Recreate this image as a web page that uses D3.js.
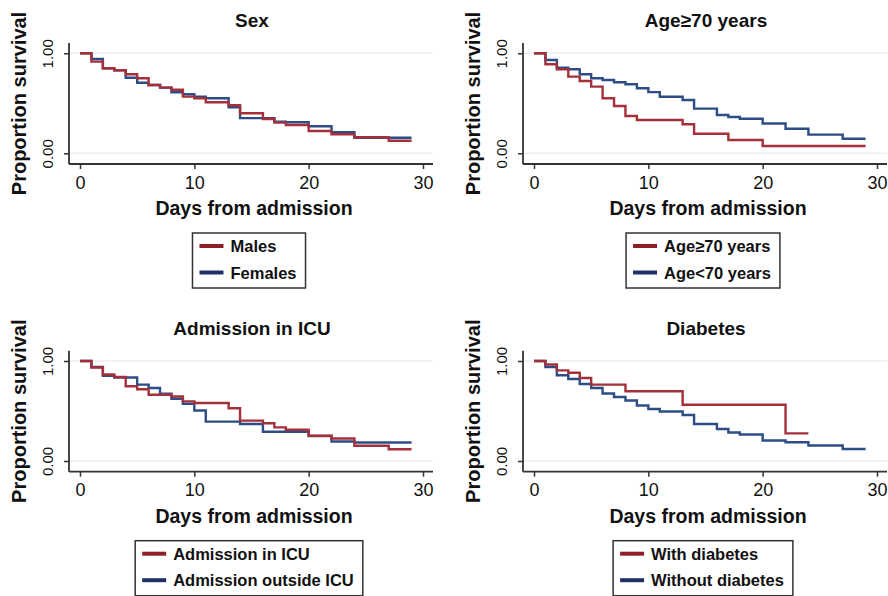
<!DOCTYPE html>
<html>
<head>
<meta charset="utf-8">
<script src="https://cdn.jsdelivr.net/npm/d3@7"></script>
<style>
  body { margin: 0; background: #fff; }
  text { font-family: "Liberation Sans", Arial, Helvetica, sans-serif; }
</style>
</head>
<body>
<script>

// Kaplan-Meier curves, [day, proportion surviving]
var males = [[0, 1], [1, 0.917], [2, 0.85], [3, 0.83], [4, 0.79], [5, 0.75], [6, 0.683], [7, 0.657], [8, 0.635], [9, 0.567], [10, 0.55], [11, 0.51], [13, 0.48], [14, 0.40], [16, 0.343], [17, 0.307], [18, 0.283], [20, 0.223], [22, 0.19], [24, 0.16], [27, 0.125], [29, 0.125]];
var females = [[0, 1], [1, 0.943], [2, 0.85], [3, 0.83], [4, 0.756], [5, 0.706], [6, 0.683], [7, 0.657], [8, 0.61], [9, 0.59], [10, 0.567], [11, 0.55], [13, 0.46], [14, 0.352], [17, 0.317], [18, 0.31], [20, 0.27], [22, 0.21], [24, 0.155], [29, 0.155]];

var ageOld = [[0, 1], [1, 0.89], [2, 0.84], [3, 0.767], [4, 0.723], [5, 0.667], [6, 0.55], [7, 0.473], [8, 0.373], [9, 0.333], [13, 0.29], [14, 0.195], [17, 0.133], [20, 0.073], [29, 0.073]];
var ageYoung = [[0, 1], [1, 0.933], [2, 0.857], [3, 0.84], [4, 0.79], [5, 0.75], [6, 0.733], [7, 0.71], [8, 0.69], [9, 0.65], [10, 0.612], [11, 0.565], [13, 0.533], [14, 0.447], [16, 0.383], [17, 0.363], [18, 0.345], [20, 0.298], [22, 0.246], [24, 0.187], [27, 0.146], [29, 0.146]];

var icuIn = [[0, 1], [1, 0.935], [2, 0.865], [3, 0.84], [4, 0.747], [5, 0.717], [6, 0.663], [8, 0.645], [9, 0.596], [10, 0.58], [13, 0.528], [14, 0.404], [16, 0.377], [17, 0.336], [18, 0.313], [20, 0.252], [22, 0.225], [24, 0.152], [27, 0.117], [29, 0.117]];
var icuOut = [[0, 1], [1, 0.94], [2, 0.853], [3, 0.835], [5, 0.764], [6, 0.73], [7, 0.673], [8, 0.622], [9, 0.572], [10, 0.505], [11, 0.394], [14, 0.37], [16, 0.293], [20, 0.25], [22, 0.195], [24, 0.185], [29, 0.185]];

var withDiabetes = [[0, 1], [1, 0.965], [2, 0.906], [3, 0.883], [4, 0.83], [5, 0.764], [8, 0.697], [13, 0.562], [22, 0.276], [24, 0.276]];
var withoutDiabetes = [[0, 1], [1, 0.94], [2, 0.857], [3, 0.82], [4, 0.77], [5, 0.73], [6, 0.675], [7, 0.64], [8, 0.605], [9, 0.555], [10, 0.52], [11, 0.495], [13, 0.46], [14, 0.37], [16, 0.32], [17, 0.285], [18, 0.265], [20, 0.205], [22, 0.188], [24, 0.155], [27, 0.12], [29, 0.12]];

var titulos = ["Sex", "Age\u226570 years", "Admission in ICU", "Diabetes"];
var leyendas = [
    ["Males", "Females"],
    ["Age\u226570 years", "Age<70 years"],
    ["Admission in ICU", "Admission outside ICU"],
    ["With diabetes", "Without diabetes"]
];
var xTicks = [0, 10, 20, 30];
var yTicks = [0, 1];
var yTickLabels = ["0.00", "1.00"];

var rojo = "#a5303a";
var azul = "#2c4d85";
var rojoLeyenda = "#8e1f26";
var azulLeyenda = "#1f3068";

var svg = d3.select("body")
    .append("svg")
    .attr("width", 888)
    .attr("height", 596);

function panel(ox, oy, titulo, serieRoja, serieAzul, nombres) {

    var g = svg.append("g")
        .attr("transform", "translate(" + ox + "," + oy + ")");

    var escalaX = d3.scaleLinear().domain([0, 30]).range([80, 423]);
    var escalaY = d3.scaleLinear().domain([0, 1]).range([153.3, 53.3]);

    // light grid at 0 and 1
    g.selectAll(".grid")
        .data(yTicks)
        .enter()
        .append("line")
        .attr("x1", 69)
        .attr("x2", 433)
        .attr("y1", function (d) { return escalaY(d); })
        .attr("y2", function (d) { return escalaY(d); })
        .attr("stroke", "#e8f0f2")
        .attr("stroke-width", 1.5);

    // axis lines
    g.append("line")
        .attr("x1", 69).attr("x2", 69)
        .attr("y1", 43).attr("y2", 164)
        .attr("stroke", "#333").attr("stroke-width", 1.8);
    g.append("line")
        .attr("x1", 69).attr("x2", 433)
        .attr("y1", 164).attr("y2", 164)
        .attr("stroke", "#333").attr("stroke-width", 1.8);

    var ejeX = g.append("g")
        .attr("transform", "translate(0,164)")
        .call(d3.axisBottom(escalaX).tickValues(xTicks).tickSize(5).tickPadding(7).tickSizeOuter(0));
    ejeX.select(".domain").remove();
    ejeX.selectAll("line").attr("stroke", "#333").attr("stroke-width", 1.5);
    ejeX.selectAll("text")
        .attr("fill", "#111")
        .style("font-size", "18px");

    var ejeY = g.append("g")
        .attr("transform", "translate(69,0)")
        .call(d3.axisLeft(escalaY).tickValues(yTicks).tickSize(5).tickFormat(function (d, i) { return yTickLabels[i]; }));
    ejeY.select(".domain").remove();
    ejeY.selectAll("line").attr("stroke", "#333").attr("stroke-width", 1.5);
    ejeY.selectAll("text")
        .attr("fill", "#111")
        .attr("transform", "rotate(-90)")
        .attr("x", 0)
        .attr("y", -16)
        .attr("dy", 0)
        .attr("text-anchor", "middle")
        .style("font-size", "15px");

    // title
    g.append("text")
        .attr("x", 252)
        .attr("y", 27)
        .attr("text-anchor", "middle")
        .style("font-size", "19px")
        .style("font-weight", "bold")
        .attr("fill", "#111")
        .text(titulo);

    // axis titles
    g.append("text")
        .attr("x", 254)
        .attr("y", 215)
        .attr("text-anchor", "middle")
        .style("font-size", "19.5px")
        .style("font-weight", "bold")
        .attr("fill", "#111")
        .text("Days from admission");

    g.append("text")
        .attr("transform", "translate(26,103.5) rotate(-90)")
        .attr("text-anchor", "middle")
        .style("font-size", "20px")
        .style("font-weight", "bold")
        .attr("fill", "#111")
        .text("Proportion survival");

    var linea = d3.line()
        .x(function (d) { return escalaX(d[0]); })
        .y(function (d) { return escalaY(d[1]); })
        .curve(d3.curveStepAfter);

    g.append("path")
        .datum(serieAzul)
        .attr("d", linea)
        .attr("fill", "none")
        .attr("stroke", azul)
        .attr("stroke-width", 2.4);

    g.append("path")
        .datum(serieRoja)
        .attr("d", linea)
        .attr("fill", "none")
        .attr("stroke", rojo)
        .attr("stroke-width", 2.4);

    // legend
    var ley = g.append("g");
    var caja = ley.append("rect")
        .attr("y", 233)
        .attr("height", 55)
        .attr("fill", "#fff")
        .attr("stroke", "#333")
        .attr("stroke-width", 1.5);

    var colores = [rojoLeyenda, azulLeyenda];
    var textos = [];
    nombres.forEach(function (n, i) {
        var fila = 233 + 13 + i * 26.5;
        ley.append("line")
            .attr("class", "muestra")
            .attr("y1", fila).attr("y2", fila)
            .attr("stroke", colores[i])
            .attr("stroke-width", 4);
        textos.push(ley.append("text")
            .attr("y", fila + 6)
            .style("font-size", "16.5px")
            .style("font-weight", "bold")
            .attr("fill", "#111")
            .text(n));
    });

    var anchoTexto = d3.max(textos, function (t) { return t.node().getComputedTextLength(); });
    var anchoCaja = 7 + 24 + 7 + anchoTexto + 9;
    var izq = 249 - anchoCaja / 2;
    caja.attr("x", izq).attr("width", anchoCaja);
    ley.selectAll(".muestra").attr("x1", izq + 7).attr("x2", izq + 31);
    textos.forEach(function (t) { t.attr("x", izq + 38); });
}

panel(0, 0, titulos[0], males, females, leyendas[0]);
panel(454, 0, titulos[1], ageOld, ageYoung, leyendas[1]);
panel(0, 307.7, titulos[2], icuIn, icuOut, leyendas[2]);
panel(454, 307.7, titulos[3], withDiabetes, withoutDiabetes, leyendas[3]);

</script>
</body>
</html>
